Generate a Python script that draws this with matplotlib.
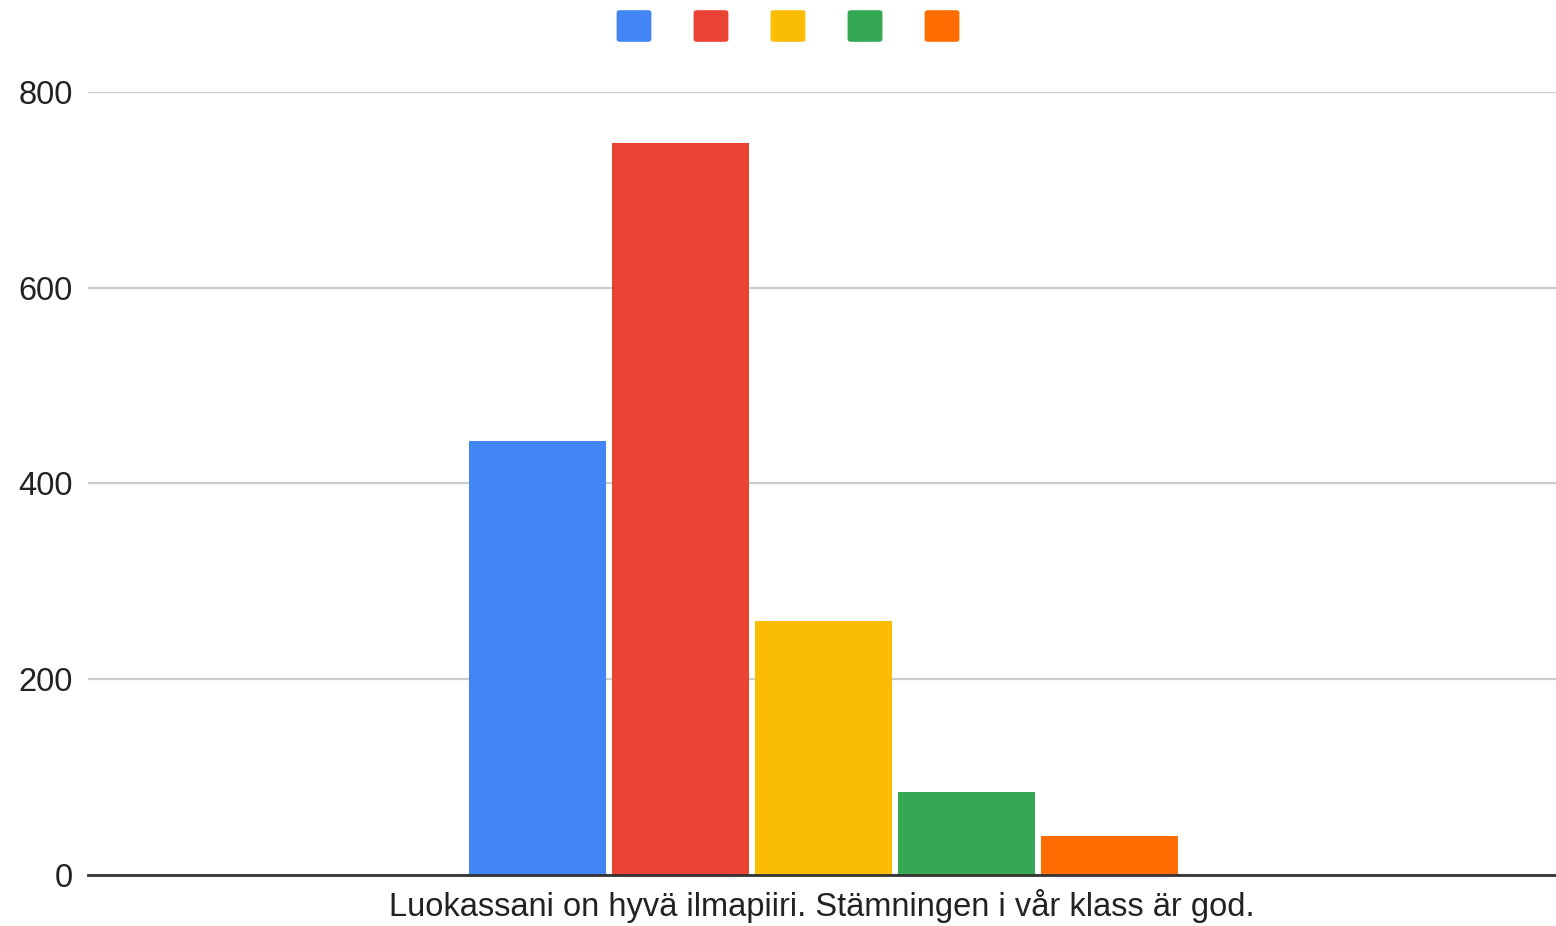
import matplotlib.pyplot as plt
from matplotlib.patches import FancyBboxPatch

plt.rcParams['font.family'] = ['Liberation Sans', 'DejaVu Sans']

category = 'Luokassani on hyvä ilmapiiri. Stämningen i vår klass är god.'
values = [443, 748, 260, 85, 40]
colors = ['#4285F4', '#EA4335', '#FBBC04', '#34A853', '#FF6D01']
yticks = [0, 200, 400, 600, 800]

fig = plt.figure(figsize=(15.56, 9.26), dpi=100)
ax = fig.add_axes([88 / 1556, 1 - 875 / 926, 1 - 88 / 1556, (875 - 92) / 926])

width = 0.0933
step = 0.0974
n = len(values)
for i, (v, c) in enumerate(zip(values, colors)):
    x = 0.001 + (i - (n - 1) / 2) * step
    ax.bar(x, v, width=width, color=c, zorder=3)

ax.set_xlim(-0.5, 0.5)
ax.set_ylim(0, 800)
ax.set_yticks(yticks)
ax.set_xticks([0])
ax.set_xticklabels([category])
ax.tick_params(axis='y', length=0, labelsize=23.5, pad=11, labelcolor='#222222')
ax.tick_params(axis='x', length=0, labelsize=23.5, pad=10, labelcolor='#222222')
ax.grid(axis='y', color='#cccccc', linewidth=1.6, zorder=0)
for s in ['top', 'right', 'left']:
    ax.spines[s].set_visible(False)
ax.spines['bottom'].set_color('#333333')
ax.spines['bottom'].set_linewidth(2)
ax.spines['bottom'].set_zorder(4)

# legend swatches without text
sz = 33
for i, c in enumerate(colors):
    cx = 634 + i * 77
    p = FancyBboxPatch(((cx - sz / 2 + 3) / 1556, 1 - (26 + sz / 2 - 3) / 926),
                       (sz - 6) / 1556, (sz - 6) / 926,
                       boxstyle='round,pad=0.0025', transform=fig.transFigure,
                       facecolor=c, edgecolor='none')
    fig.patches.append(p)

fig.savefig('out.png', dpi=100)
